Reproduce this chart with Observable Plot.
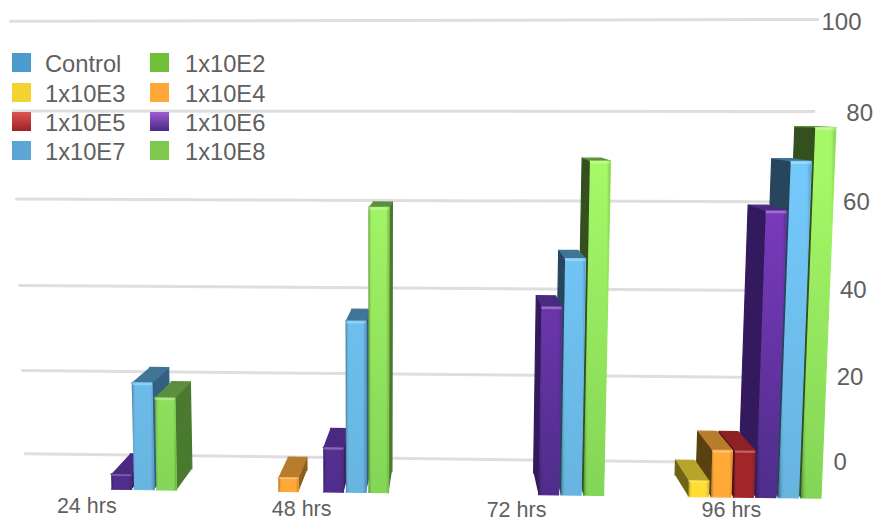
<!DOCTYPE html>
<html>
<head>
<meta charset="utf-8">
<script src="https://cdn.jsdelivr.net/npm/d3@7"></script>
<script src="https://cdn.jsdelivr.net/npm/@observablehq/plot@0.6"></script>
<style>
  html, body { margin: 0; padding: 0; background: #fff; }
  #chart { position: relative; width: 895px; height: 521px; font-family: "Liberation Sans", Arial, sans-serif; }
  #chart svg { display: block; background: transparent; }
  .key { position: absolute; font-size: 23.7px; line-height: 30px; color: #606060; white-space: nowrap; }
  .chip { position: absolute; width: 19px; height: 19px; }
</style>
</head>
<body>
<div id="chart"></div>
<script>
// Percent response per dose series, one entry per time point (0 = no bar).
const hours = ["24 hrs", "48 hrs", "72 hrs", "96 hrs"];
const seriesNames = ["Control", "1x10E2", "1x10E3", "1x10E4", "1x10E5", "1x10E6", "1x10E7", "1x10E8"];
const control = [0, 0, 0, 0];
const e2 = [0, 0, 0, 0];
const e3 = [0, 0, 0, 3.4];
const e4 = [0, 3, 0, 10];
const e5 = [0, 0, 0, 10];
const e6 = [3.3, 9.7, 40, 60];
const e7 = [23.2, 36.7, 50, 70];
const e8 = [20, 60.4, 70, 76.8];
const seriesValues = [control, e2, e3, e4, e5, e6, e7, e8];
const gridValues = [0, 20, 40, 60, 80, 100];

// Key swatches, in the same order as seriesNames.
const keyFills = ["#4a9ccc", "#6fc037", "#f3d330", "#ffa838",
  "linear-gradient(#e25352,#9a2226)", "linear-gradient(#9c5dd2,#4a2a85)", "#5ba6d3", "#7ec84e"];

// Bar paint: front gradient stops, top face, side faces (right-hand, left-hand).
const frontTop = ["#4a9ccc", "#6fc037", "#ffe33c", "#ffb23e", "#ab272b", "#7f3cc2", "#74c9fb", "#a5f866"];
const frontLow = ["#4a9ccc", "#6fc037", "#ffdc34", "#ffa838", "#a12629", "#4f2d8b", "#67b4df", "#83d556"];
const topFace = ["#3a7590", "#4c8228", "#b6a52a", "#b87d2c", "#8e2026", "#4a2a80", "#3f7597", "#5b8e3d"];
const sideRight = ["#2f5f78", "#3d6a20", "#8a7c1c", "#8a5e1e", "#6e181c", "#3a2066", "#336080", "#4a7a30"];
const sideLeft = ["#24465c", "#2a4a16", "#6f6415", "#5a4112", "#4a1014", "#33195e", "#27455c", "#33501e"];

// Simple one-point perspective: a bar slot, a value and a depth give a position
// expressed in slot units across and baseline value units up.
const slotSize = 22.5, originX = -1.5, baseY = 489, unitY = 4.53;
const groupStarts = [0, 9.42, 18.98, 28.64], labelSpacing = 9.55;
const vanishX = 450, vanishY = 110;
const barDepth = 0.056, wallDepth = 0.09, barWidth = 0.89;

function project(slot, value, depth) {
  const fx = originX + slot * slotSize;
  const rise = (4.53 * value + 0.0022 * value * value) * (1 + (fx + 20) * 0.000032);
  const floor = baseY + (fx - 134) * 0.0127;
  const y = floor - rise;
  const x = fx + (fx - 370) * 0.00009 * rise;
  return {
    x: (x + depth * (vanishX - x)) / slotSize,
    y: (baseY - (y + depth * (vanishY - y))) / unitY
  };
}

// Every bar becomes a handful of polygons, painted from the outside in
// so that the bars nearer the vanishing point overlap their neighbours.
const bars = [];
hours.forEach((h, g) => seriesValues.forEach((vals, s) => {
  if (vals[g] > 0) bars.push({g, s, value: vals[g], slot: groupStarts[g] + s});
}));
bars.sort((a, b) =>
  Math.abs(project(b.slot, 0, 0).x * slotSize - vanishX) - Math.abs(project(a.slot, 0, 0).x * slotSize - vanishX));

const faces = [];
function face(id, paint, corners, stroke = "none") {
  corners.forEach(([s, v, d]) => faces.push({id, paint, stroke, ...project(s, v, d)}));
}
bars.forEach(({s, value: v, slot}, i) => {
  const a = slot, b = slot + barWidth;
  const leftOfCentre = project(slot, 0, 0).x * slotSize < vanishX;
  const edge = leftOfCentre ? b : a;
  const side = (leftOfCentre ? sideRight : sideLeft)[s];
  const lip = Math.min(0.5, v * 0.1);
  face(`${i}-side`, side, [[edge, 0, 0], [edge, v, 0], [edge, v, barDepth], [edge, 0, barDepth]], side);
  face(`${i}-top`, topFace[s], [[a, v, 0], [b, v, 0], [b, v, barDepth], [a, v, barDepth]], topFace[s]);
  face(`${i}-front`, `url(#front${s})`, [[a, 0, 0], [b, 0, 0], [b, v, 0], [a, v, 0]], `url(#front${s})`);
  face(`${i}-bevel`, "url(#bevel)", [[a, 0, 0], [b, 0, 0], [b, v, 0], [a, v, 0]]);
  face(`${i}-lip`, "rgba(255,255,255,0.28)", [[a, v, 0], [b, v, 0], [b, v - lip, 0], [a, v - lip, 0]]);
});

// Grid lines run along the back wall.
const grid = gridValues.flatMap(v => [
  {v, ...project(-0.7, v, wallDepth)},
  {v, ...project(37.1, v, wallDepth)}
]);

// Value labels follow the wall's right edge, with the top label pulled in.
const tickLabels = gridValues.map(v => ({
  v,
  x: (v === 100 ? 821 : 833 + 0.16 * v) / slotSize,
  y: (baseY - (462 - 4.25 * v - 0.0015 * v * v)) / unitY
}));

// Time labels sit under each group, following the floor but kept on the page.
const groupLabels = hours.map((h, g) => {
  const p = project(g * labelSpacing + 3.9, 0, 0);
  return {h, x: p.x, y: Math.max(p.y - 17.5 / unitY, (baseY - 509.5) / unitY)};
});

// Gradients used by the bar fronts and the soft shading on their edges.
function gradients() {
  const defs = d3.create("svg:defs");
  seriesNames.forEach((_, s) => {
    const g = defs.append("linearGradient").attr("id", `front${s}`)
      .attr("gradientUnits", "userSpaceOnUse")
      .attr("x1", 0).attr("x2", 0).attr("y1", 170).attr("y2", 495);
    g.append("stop").attr("offset", "0%").attr("stop-color", frontTop[s]);
    g.append("stop").attr("offset", "100%").attr("stop-color", frontLow[s]);
  });
  const bevel = defs.append("linearGradient").attr("id", "bevel");
  [[0, 0.36], [0.09, 0.08], [0.16, 0], [0.86, 0], [1, 0.2]].forEach(([o, a]) =>
    bevel.append("stop").attr("offset", o).attr("stop-color", "#000").attr("stop-opacity", a));
  return defs.node();
}

const plot = Plot.plot({
  width: 895,
  height: 521,
  margin: 0,
  x: {type: "linear", domain: [0, 895 / slotSize], range: [0, 895], axis: null},
  y: {type: "linear", domain: [baseY / unitY, (baseY - 521) / unitY], range: [0, 521], axis: null},
  color: {type: "identity"},
  style: {fontFamily: "'Liberation Sans', Arial, sans-serif", background: "transparent"},
  marks: [
    gradients,
    Plot.line(grid, {x: "x", y: "y", z: "v", stroke: "#dedede", strokeWidth: 3}),
    Plot.line(faces, {
      x: "x", y: "y", z: "id",
      fill: d => d.paint, stroke: d => d.stroke,
      strokeWidth: 1.2, strokeLinejoin: "round"
    }),
    Plot.text(tickLabels, {
      x: "x", y: "y", text: d => String(d.v), textAnchor: "start",
      fontSize: 24, fill: "#606060"
    }),
    Plot.text(groupLabels, {
      x: "x", y: "y", text: "h", fontSize: 21.5, fill: "#606060"
    })
  ]
});

const chart = document.getElementById("chart");
chart.append(plot);

// The key sits over the top-left of the plot, two columns of four rows.
const keyRows = [53, 83, 112, 141], keyColumns = [12, 150];
seriesNames.forEach((name, i) => {
  const column = i % 2, row = Math.floor(i / 2);
  const chip = document.createElement("div");
  chip.className = "chip";
  chip.style.left = keyColumns[column] + "px";
  chip.style.top = keyRows[row] + "px";
  chip.style.background = keyFills[i];
  const label = document.createElement("div");
  label.className = "key";
  label.textContent = name;
  label.style.left = keyColumns[column] + (column ? 35 : 33) + "px";
  label.style.top = keyRows[row] - 4 + "px";
  chart.append(chip, label);
});
</script>
</body>
</html>
